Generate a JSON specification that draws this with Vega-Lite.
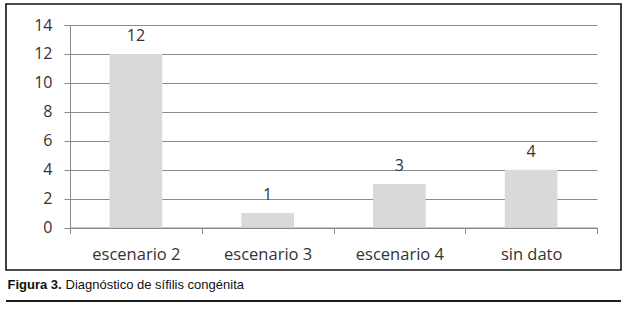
{
  "$schema": "https://vega.github.io/schema/vega-lite/v6.json",
  "width": 615,
  "height": 266,
  "autosize": {"type": "none"},
  "padding": {"left": 6, "top": 4, "right": 9, "bottom": 39},
  "background": "white",
  "config": {"view": {"stroke": "#111111", "strokeWidth": 1.6}},
  "data": {
    "values": [
      {"escenario": "escenario 2", "casos": 12},
      {"escenario": "escenario 3", "casos": 1},
      {"escenario": "escenario 4", "casos": 3},
      {"escenario": "sin dato", "casos": 4}
    ]
  },
  "layer": [
    {
      "mark": {"type": "bar", "color": "#d9d9d9", "width": {"band": 0.4}},
      "encoding": {
        "x": {
          "field": "escenario", "type": "nominal", "sort": null,
          "scale": {"range": [64, 591], "paddingInner": 0, "paddingOuter": 0},
          "axis": {
            "title": "Diagnóstico de sífilis congénita",
            "offset": -42.5,
            "tickBand": "extent",
            "grid": false,
            "domainColor": "#8a8a8a", "tickColor": "#8a8a8a", "tickSize": 6,
            "labelAngle": 0, "labelFont": "Open Sans", "labelFontSize": 16.5, "labelColor": "#333333",
            "labelBaseline": "alphabetic", "labelPadding": 26,
            "titleX": 59, "titleY": 61.2, "titleAlign": "left", "titleAnchor": null, "titleBaseline": "alphabetic",
            "titleFont": "Liberation Sans", "titleFontWeight": "normal", "titleFontSize": 13, "titleColor": "#111111"
          }
        },
        "y": {
          "field": "casos", "type": "quantitative",
          "scale": {"domain": [0, 14], "range": [223.5, 21], "nice": false, "zero": true},
          "axis": {
            "values": [0, 2, 4, 6, 8, 10, 12, 14],
            "labelOverlap": false,
            "offset": -64,
            "grid": true, "gridColor": "#8a8a8a", "gridWidth": 1,
            "domainColor": "#8a8a8a", "tickColor": "#8a8a8a", "tickSize": 6,
            "labelFont": "Open Sans", "labelFontSize": 16, "labelColor": "#333333", "labelPadding": 12,
            "title": "Figura 3.", "titleAngle": 0, "titleX": -63, "titleY": 284.7,
            "titleAlign": "left", "titleAnchor": null, "titleBaseline": "alphabetic",
            "titleFont": "Liberation Sans Narrow, Liberation Sans", "titleFontWeight": "bold", "titleFontSize": 13, "titleColor": "#111111"
          }
        }
      }
    },
    {
      "mark": {"type": "text", "dy": -13, "baseline": "alphabetic", "font": "Open Sans", "fontSize": 16, "color": "#333333"},
      "encoding": {
        "x": {"field": "escenario", "type": "nominal", "sort": null},
        "y": {
          "field": "casos", "type": "quantitative",
          "axis": {
            "values": [0, 2, 4, 6, 8, 10, 12, 14],
            "labelOverlap": false,
            "offset": -64,
            "grid": true, "gridColor": "#8a8a8a", "gridWidth": 1,
            "domainColor": "#8a8a8a", "tickColor": "#8a8a8a", "tickSize": 6,
            "labelFont": "Open Sans", "labelFontSize": 16, "labelColor": "#333333", "labelPadding": 12,
            "title": "Figura 3.", "titleAngle": 0, "titleX": -63, "titleY": 284.7,
            "titleAlign": "left", "titleAnchor": null, "titleBaseline": "alphabetic",
            "titleFont": "Liberation Sans Narrow, Liberation Sans", "titleFontWeight": "bold", "titleFontSize": 13, "titleColor": "#111111"
          }
        },
        "text": {"field": "casos"}
      }
    },
    {
      "mark": {"type": "rule", "color": "#111111", "strokeWidth": 1.2, "clip": false},
      "encoding": {
        "y": {
          "datum": -5.08,
          "axis": {
            "values": [0, 2, 4, 6, 8, 10, 12, 14],
            "labelOverlap": false,
            "offset": -64,
            "grid": true, "gridColor": "#8a8a8a", "gridWidth": 1,
            "domainColor": "#8a8a8a", "tickColor": "#8a8a8a", "tickSize": 6,
            "labelFont": "Open Sans", "labelFontSize": 16, "labelColor": "#333333", "labelPadding": 12,
            "title": "Figura 3.", "titleAngle": 0, "titleX": -63, "titleY": 284.7,
            "titleAlign": "left", "titleAnchor": null, "titleBaseline": "alphabetic",
            "titleFont": "Liberation Sans Narrow, Liberation Sans", "titleFontWeight": "bold", "titleFontSize": 13, "titleColor": "#111111"
          }
        }
      }
    }
  ]
}
